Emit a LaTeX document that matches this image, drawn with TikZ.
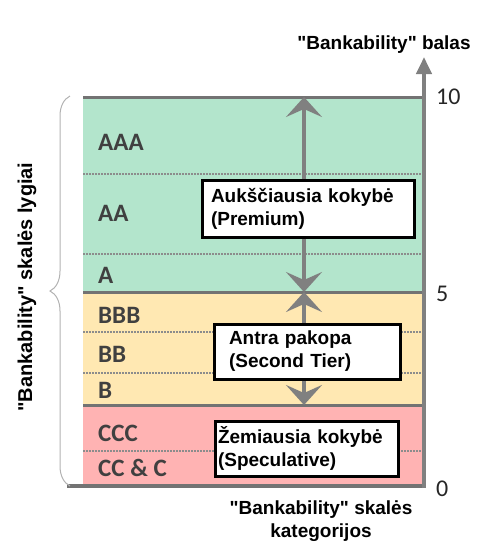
\documentclass[tikz,border=0pt]{standalone}
\usepackage{fontspec}
\setmainfont{Liberation Sans}[Ligatures=TeXOff]
\newfontfamily\calfont{Carlito}
\usetikzlibrary{arrows.meta,decorations.pathreplacing}

\definecolor{premium}{HTML}{B3E5CC}
\definecolor{secondtier}{HTML}{FFE8B2}
\definecolor{speculative}{HTML}{FFB3B3}
\definecolor{gridgray}{HTML}{737373}
\definecolor{labgray}{HTML}{404040}

\tikzset{
  grade/.style={anchor=west,text=labgray,inner sep=0pt,
    font=\calfont\bfseries\fontsize{25}{25}\selectfont},
  tick/.style={anchor=west,text=black!85,inner sep=0pt,
    font=\calfont\fontsize{24}{24}\selectfont},
  caption/.style={align=center,inner sep=0pt,
    font=\bfseries\fontsize{19}{23}\selectfont},
  tierbox/.style={draw=black,line width=3pt,fill=white,anchor=north west,
    align=left,inner ysep=0pt,font=\bfseries\fontsize{19}{23}\selectfont},
  bandline/.style={gridgray,line width=3pt},
  subline/.style={gray!90,line width=1.3pt,dash pattern=on 1.5pt off 1.5pt},
  midarrow/.style={gray,line width=4pt,
    {Stealth[length=20pt,width=36pt,inset=8pt]}-{Stealth[length=20pt,width=36pt,inset=8pt]}},
}

\begin{document}
\begin{tikzpicture}[x=1pt,y=-1pt]
    \useasboundingbox (0,0) rectangle (492,560);

    % Colour bands
    \fill[premium]     (83,97)  rectangle (424,292);
    \fill[secondtier]  (83,292) rectangle (424,405);
    \fill[speculative] (83,405) rectangle (424,486);

    % Dotted sub-grade lines
    \foreach \y in {174,254,332,373,451}
        \draw[subline] (83,\y) -- (422,\y);

    % Band borders
    \draw[bandline] (83,97) -- (424,97);
    \draw[bandline] (83,292) -- (424,292);
    \draw[bandline] (83,405) -- (424,405);
    \draw[gridgray,line width=3.5pt] (67,486) -- (424,486);

    % Grades
    \node[grade] (aaa) at (98,142) {AAA};
    \node[grade] (aa)  at (98,213) {AA};
    \node[grade] (a)   at (98,275) {A};
    \node[grade] (bbb) at (98,315) {BBB};
    \node[grade] (bb)  at (98,354) {BB};
    \node[grade] (b)   at (98,390) {B};
    \node[grade] (ccc) at (98,433) {CCC};
    \node[grade] (cc)  at (98,468) {CC \& C};

    % Score axis
    \coordinate (s0) at (424,488);
    \coordinate (stop) at (424,57);
    \draw[gray,line width=4pt,-{Triangle[length=17pt,width=15pt]}] (s0) -- (stop);
    \node[tick] (n10) at (436,97) {10};
    \node[tick] (n5)  at (436,294) {5};
    \node[tick] (n0)  at (436,489) {0};
    \node[caption] (score) at (384,45) {"Bankability" balas};

    % Range arrows
    \coordinate (m10) at (304,97);
    \coordinate (m5)  at (304,292);
    \coordinate (m2)  at (304,405);
    \draw[midarrow] (m5) -- (m10);
    \draw[midarrow] (m2) -- (m5);

    % Tier boxes
    \node[tierbox,inner xsep=9pt,text width=194pt,minimum height=57pt] (top) at (200.5,178.5)
        {Aukščiausia kokybė\\(Premium)};
    \node[tierbox,inner xsep=15pt,text width=156pt,minimum height=55pt] (mid) at (212.5,322.5)
        {Antra pakopa\\(Second Tier)};
    \node[tierbox,inner xsep=3pt,text width=177pt,minimum height=55pt] (low) at (213.5,419.5)
        {Žemiausia kokybė\\(Speculative)};

    % Brace and side captions
    \coordinate (br0) at (70,486);
    \coordinate (br1) at (70,96);
    \draw[gray!60,line width=1pt,decorate,decoration={brace,amplitude=20pt}] (br0) -- (br1);
    \node[caption,rotate=90,font=\bfseries\fontsize{20}{23}\selectfont] (levels) at (27,287)
        {"Bankability" skalės lygiai};
    \node[caption] (cats) at (321,521) {"Bankability" skalės\\kategorijos};

\end{tikzpicture}
\end{document}
